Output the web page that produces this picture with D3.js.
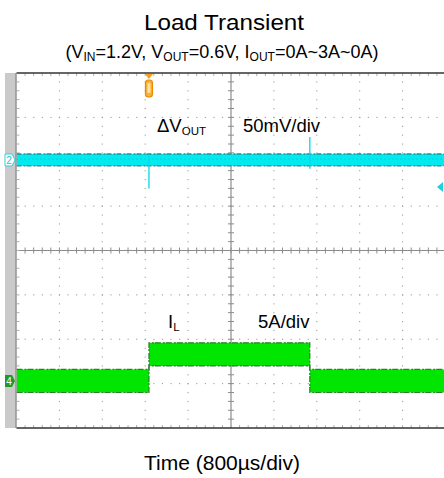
<!DOCTYPE html>
<html>
<head>
<meta charset="utf-8">
<script src="https://cdn.jsdelivr.net/npm/d3@7"></script>
<style>
  body { margin: 0; background: #fff; }
  svg { display: block; font-family: "Liberation Sans", Arial, sans-serif; }
</style>
</head>
<body>
<div id="chart"></div>
<script>
// scope setup: 10 time divisions, 8 vertical divisions
const timePerDiv = 800; // µs
const timeDivs = 10;
const vertDivs = 8;

// channel 2: output voltage deviation (mV), 50mV/div
const vOffsetDiv = 2.04;
const vTimes = [0, 8000];
const vLevel = [0, 0];
const vRipple = 13.5; // mV p-p band
const vSpikeTimes = [2470, 5470];
const vSpikeLow = [-32, -10];
const vSpikeHigh = [4, 26];

// channel 4: inductor current (A), 5A/div
const iOffsetDiv = -2.94;
const iTimes = [0, 2470, 2470, 5470, 5470, 8000];
const iLevel = [0, 0, 3, 3, 0, 0];
const iRipple = 2.6; // A p-p band

const triggerTime = 2470;

const width = 444, height = 478;
const plot = { left: 16.5, top: 73, bottom: 428 };
const divW = 42.9;
const plotRight = plot.left + divW * timeDivs;

const svg = d3.select("#chart").append("svg")
  .attr("width", width)
  .attr("height", height);

const x = d3.scaleLinear()
  .domain([0, timePerDiv * timeDivs])
  .range([plot.left, plotRight]);

const yDiv = d3.scaleLinear()
  .domain([-vertDivs / 2, vertDivs / 2])
  .range([plot.bottom, plot.top]);

const yV = d3.scaleLinear()
  .domain([(-4 - vOffsetDiv) * 50, (4 - vOffsetDiv) * 50])
  .range([plot.bottom, plot.top]);

const yI = d3.scaleLinear()
  .domain([(-4 - iOffsetDiv) * 5, (4 - iOffsetDiv) * 5])
  .range([plot.bottom, plot.top]);

// titles
svg.append("text")
  .attr("x", 224).attr("y", 30)
  .attr("text-anchor", "middle")
  .attr("font-size", 22)
  .attr("textLength", 160)
  .attr("lengthAdjust", "spacingAndGlyphs")
  .text("Load Transient");

const sub = svg.append("text")
  .attr("x", 222).attr("y", 58)
  .attr("text-anchor", "middle")
  .attr("font-size", 18);
sub.append("tspan").text("(V");
sub.append("tspan").attr("font-size", 12).attr("dy", 3).text("IN");
sub.append("tspan").attr("dy", -3).text("=1.2V, V");
sub.append("tspan").attr("font-size", 12).attr("dy", 3).text("OUT");
sub.append("tspan").attr("dy", -3).text("=0.6V, I");
sub.append("tspan").attr("font-size", 12).attr("dy", 3).text("OUT");
sub.append("tspan").attr("dy", -3).text("=0A~3A~0A)");

svg.append("text")
  .attr("x", 222).attr("y", 470)
  .attr("text-anchor", "middle")
  .attr("font-size", 21)
  .text("Time (800µs/div)");

// clip to screen
svg.append("clipPath").attr("id", "screen")
  .append("rect")
  .attr("x", plot.left).attr("y", plot.top)
  .attr("width", width - plot.left).attr("height", plot.bottom - plot.top);

// grey strip on the left
svg.append("rect")
  .attr("x", 5).attr("y", plot.top)
  .attr("width", plot.left - 5).attr("height", plot.bottom - plot.top)
  .attr("fill", "#cacaca");

const g = svg.append("g").attr("clip-path", "url(#screen)");

// dotted grid
const dotStepX = divW / 5;
const dotStepY = (plot.bottom - plot.top) / vertDivs / 5;
const gridDots = g.append("g").attr("fill", "#9a9a9a");
d3.range(1, timeDivs).forEach(k => {
  const gx = plot.left + k * divW;
  if (k === 5) return;
  d3.range(1, vertDivs * 5).forEach(j => {
    gridDots.append("rect")
      .attr("x", gx - 0.5).attr("y", plot.top + j * dotStepY - 0.5)
      .attr("width", 1).attr("height", 1.2);
  });
});
d3.range(1, vertDivs).forEach(k => {
  if (k === 4) return;
  const gy = yDiv(k - 4);
  d3.range(1, timeDivs * 5).forEach(j => {
    gridDots.append("rect")
      .attr("x", plot.left + j * dotStepX - 0.5).attr("y", gy - 0.5)
      .attr("width", 1.2).attr("height", 1);
  });
});

// center axes with minor ticks
const cx = x(timePerDiv * timeDivs / 2);
const cy = yDiv(0);
g.append("line")
  .attr("x1", cx).attr("x2", cx).attr("y1", plot.top).attr("y2", plot.bottom)
  .attr("stroke", "#8c8c8c").attr("stroke-width", 1.2);
g.append("line")
  .attr("x1", plot.left).attr("x2", plotRight).attr("y1", cy).attr("y2", cy)
  .attr("stroke", "#8c8c8c").attr("stroke-width", 1.2);
const ticks = g.append("g").attr("stroke", "#8c8c8c").attr("stroke-width", 1);
d3.range(1, vertDivs * 5).forEach(j => {
  const ty = plot.top + j * dotStepY;
  ticks.append("line").attr("x1", cx - 3).attr("x2", cx + 3).attr("y1", ty).attr("y2", ty);
  ticks.append("line").attr("x1", plot.left).attr("x2", plot.left + 3).attr("y1", ty).attr("y2", ty)
    .attr("stroke", "#b0b0b0");
});
d3.range(1, timeDivs * 5).forEach(j => {
  const tx = plot.left + j * dotStepX;
  ticks.append("line").attr("x1", tx).attr("x2", tx).attr("y1", cy - 3).attr("y2", cy + 3);
  ticks.append("line").attr("x1", tx).attr("x2", tx).attr("y1", plot.top).attr("y2", plot.top + 3)
    .attr("stroke", "#b0b0b0");
  ticks.append("line").attr("x1", tx).attr("x2", tx).attr("y1", plot.bottom - 3).attr("y2", plot.bottom)
    .attr("stroke", "#b0b0b0");
});

// channel 2 band
const vData = vTimes.map((t, i) => ({ t, v: vLevel[i] }));
g.append("path")
  .datum(vData)
  .attr("fill", "#00eaf0")
  .attr("d", d3.area()
    .x(d => x(d.t))
    .y0(d => yV(d.v - vRipple / 2))
    .y1(d => yV(d.v + vRipple / 2)));
[1, -1].forEach(s => {
  g.append("path")
    .datum(vData)
    .attr("fill", "none")
    .attr("stroke", "#2a8c96")
    .attr("stroke-width", 1.3)
    .attr("stroke-dasharray", "5,2,2,1")
    .attr("d", d3.line().x(d => x(d.t)).y(d => yV(d.v + s * vRipple / 2)));
});
g.append("path")
  .datum(vData)
  .attr("fill", "none")
  .attr("stroke", "#14b8c4")
  .attr("stroke-width", 1)
  .attr("stroke-dasharray", "1,3")
  .attr("d", d3.line().x(d => x(d.t)).y(d => yV(d.v + 1)));
vSpikeTimes.forEach((t, i) => {
  g.append("line")
    .attr("x1", x(t)).attr("x2", x(t))
    .attr("y1", yV(vSpikeLow[i])).attr("y2", yV(vSpikeHigh[i]))
    .attr("stroke", "#00d8e6").attr("stroke-width", 1.3);
});

// channel 4 band
const iData = iTimes.map((t, i) => ({ t, v: iLevel[i] }));
g.append("path")
  .datum(iData)
  .attr("fill", "#00e600")
  .attr("d", d3.area()
    .x(d => x(d.t))
    .y0(d => yI(d.v - iRipple / 2))
    .y1(d => yI(d.v + iRipple / 2)));
[1, -1].forEach(s => {
  g.append("path")
    .datum(iData)
    .attr("fill", "none")
    .attr("stroke", "#2e7d2e")
    .attr("stroke-width", 1.2)
    .attr("stroke-dasharray", "6,2,2,1")
    .attr("d", d3.line().x(d => x(d.t)).y(d => yI(d.v + s * iRipple / 2)));
});

// frame
svg.append("line")
  .attr("x1", plot.left).attr("x2", width).attr("y1", plot.top).attr("y2", plot.top)
  .attr("stroke", "#333").attr("stroke-width", 1.5);
svg.append("line")
  .attr("x1", plot.left).attr("x2", width).attr("y1", plot.bottom).attr("y2", plot.bottom)
  .attr("stroke", "#333").attr("stroke-width", 1.5);
svg.append("line")
  .attr("x1", plot.left - 0.5).attr("x2", plot.left - 0.5).attr("y1", plot.top).attr("y2", plot.bottom)
  .attr("stroke", "#777").attr("stroke-width", 1);

// trigger marker
const tx0 = x(triggerTime);
svg.append("path")
  .attr("d", `M${tx0 - 4},${plot.top + 1}L${tx0 + 4},${plot.top + 1}L${tx0},${plot.top + 6}Z`)
  .attr("fill", "#f5a01a");
svg.append("rect")
  .attr("x", tx0 - 3.5).attr("y", 80).attr("width", 7).attr("height", 17).attr("rx", 3)
  .attr("fill", "#f7b23a").attr("stroke", "#ec8a00").attr("stroke-width", 1.2);
svg.append("rect")
  .attr("x", tx0 - 1.5).attr("y", 83).attr("width", 3).attr("height", 10).attr("rx", 1)
  .attr("fill", "#fde2a8");

// channel markers
const ch2y = yV(0), ch4y = yI(0);
svg.append("path")
  .attr("d", `M5,${ch2y - 6}H12L15,${ch2y}L12,${ch2y + 6}H5Z`)
  .attr("fill", "#fff").attr("stroke", "#30d0dc").attr("stroke-width", 1);
svg.append("text").attr("x", 9).attr("y", ch2y + 4).attr("text-anchor", "middle")
  .attr("font-size", 10).attr("fill", "#22c4d2").text("2");
svg.append("path")
  .attr("d", `M5,${ch4y - 6}H12L15,${ch4y}L12,${ch4y + 6}H5Z`)
  .attr("fill", "#1f9a2a");
svg.append("text").attr("x", 9).attr("y", ch4y + 4).attr("text-anchor", "middle")
  .attr("font-size", 10).attr("fill", "#fff").text("4");

// cyan offset arrow at the right edge
svg.append("path")
  .attr("d", "M437,187L443,182L443,192Z")
  .attr("fill", "#22d0dc");

// channel labels
const vLab = svg.append("text").attr("x", 157).attr("y", 132).attr("font-size", 18.5);
vLab.append("tspan").text("ΔV");
vLab.append("tspan").attr("font-size", 11.5).attr("dy", 3).text("OUT");
svg.append("text").attr("x", 243).attr("y", 132).attr("font-size", 18.5).text("50mV/div");

const iLab = svg.append("text").attr("x", 168).attr("y", 328).attr("font-size", 18.5);
iLab.append("tspan").text("I");
iLab.append("tspan").attr("font-size", 11.5).attr("dy", 3).text("L");
svg.append("text").attr("x", 258).attr("y", 328).attr("font-size", 18.5).text("5A/div");
</script>
</body>
</html>
